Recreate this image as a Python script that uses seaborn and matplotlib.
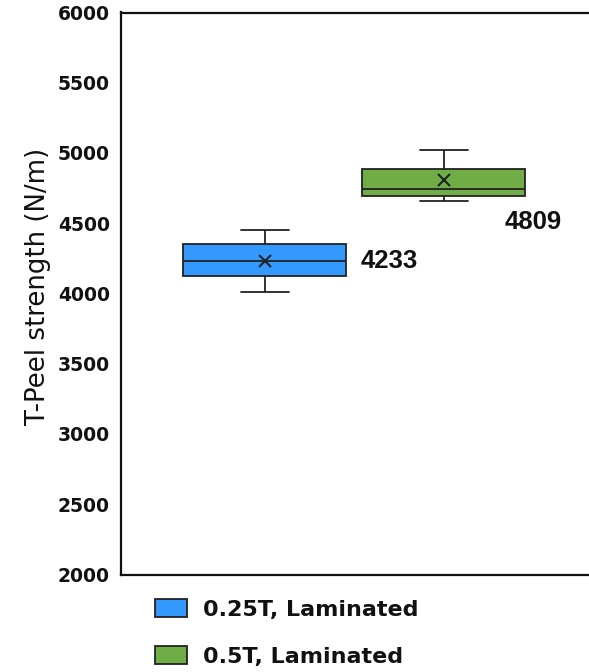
import matplotlib
matplotlib.use("Agg")
import matplotlib.pyplot as plt
import seaborn as sns
import pandas as pd
from matplotlib.patches import Patch

# ---- data ----
categories = ["0.25T, Laminated", "0.5T, Laminated"]
whisker_low = [4013, 4656]
q1 = [4125, 4694]
median = [4233, 4744]
q3 = [4350, 4884]
whisker_high = [4452, 5021]
means = [4233, 4809]
mean_labels = ["4233", "4809"]
colors = ["#3399FF", "#70AD47"]
yticks = [2000, 2500, 3000, 3500, 4000, 4500, 5000, 5500, 6000]
ylabel = "T-Peel strength (N/m)"

rows = []
for c, lo, a, m, b, hi in zip(categories, whisker_low, q1, median, q3, whisker_high):
    for v in (lo, a, m, b, hi):
        rows.append({"group": c, "value": v})
df = pd.DataFrame(rows)
mdf = pd.DataFrame({"group": categories, "mean": means})

sns.set_theme(style="white")
plt.rcParams["font.family"] = ["DejaVu Sans"]

W, H = 589, 672
fig = plt.figure(figsize=(W / 100, H / 100), dpi=100)
L, B, T = 121, 574.5, 12.5
ax = fig.add_axes([L / W, 1 - B / H, 1 - L / W, (B - T) / H])

line_c = "#222222"
sns.boxplot(data=df, x="group", y="value", hue="group", order=categories,
            hue_order=categories, palette=colors, saturation=1, width=0.91,
            whis=1.5, linewidth=1.3, linecolor=line_c, legend=False,
            dodge=False, showfliers=False, capwidths=0.27, ax=ax)

sns.pointplot(data=mdf, x="group", y="mean", order=categories, color=line_c,
              errorbar=None, marker="x", linestyle="none", markersize=8,
              markeredgewidth=1.5, ax=ax)

ax.set_xlim(-0.803, 1.812)
ax.set_ylim(2000, 6000)
ax.set_yticks(yticks)
ax.set_yticklabels([str(t) for t in yticks], fontsize=13.5, fontweight="bold",
                   color="#111111")
ax.set_xticks([])
ax.set_xlabel("")
ax.set_ylabel(ylabel, fontsize=18.7, family="DejaVu Sans", fontweight="normal",
              color="#111111")
ax.yaxis.set_label_coords(-0.150, 0.5125)
ax.tick_params(axis="y", length=0, pad=8)
ax.grid(False)
for s in ["left", "bottom", "top"]:
    ax.spines[s].set_color("#111111")
    ax.spines[s].set_linewidth(1.6)
ax.spines["right"].set_visible(False)

label_dx = [0.538, 0.342]
label_dy = [0, -300]
for i, (m, lab) in enumerate(zip(means, mean_labels)):
    ax.text(i + label_dx[i], m + label_dy[i], lab, ha="left", va="center",
            fontsize=18.5, fontweight="bold", family="Liberation Sans",
            color="#111111")

handles = [Patch(facecolor=c, edgecolor=line_c, linewidth=1.3, label=l)
           for c, l in zip(colors, categories)]
leg = fig.legend(handles=handles, loc="upper left",
                 bbox_to_anchor=(155 / W, 1 - 599 / H), frameon=False,
                 prop=dict(family="DejaVu Sans", weight="bold", size=16),
                 handlelength=1.43, handleheight=0.85, handletextpad=0.72,
                 labelspacing=1.2, borderpad=0, borderaxespad=0)
for t in leg.get_texts():
    t.set_color("#111111")

fig.savefig("out.png", dpi=100)
